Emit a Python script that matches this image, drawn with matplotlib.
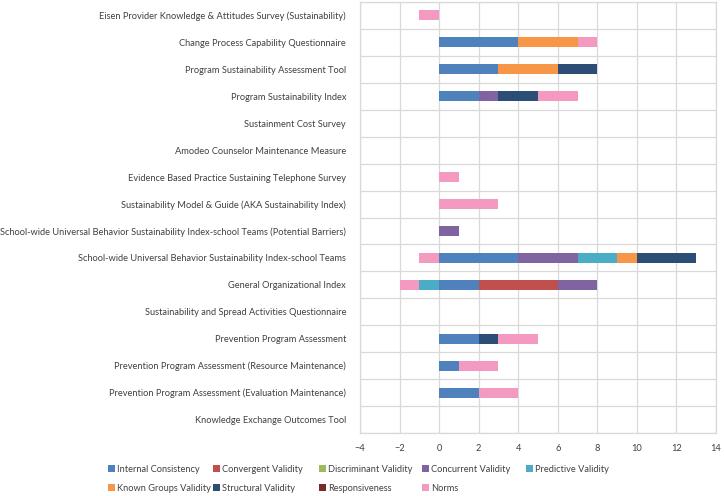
import numpy as np
import matplotlib
matplotlib.use("Agg")
import matplotlib.pyplot as plt

plt.rcParams['font.family'] = ['Lato', 'DejaVu Sans']

# ── Data ──────────────────────────────────────────────────────────────────────
instruments = [
    'Eisen Provider Knowledge & Attitudes Survey (Sustainability)',
    'Change Process Capability Questionnaire',
    'Program Sustainability Assessment Tool',
    'Program Sustainability Index',
    'Sustainment Cost Survey',
    'Amodeo Counselor Maintenance Measure',
    'Evidence Based Practice Sustaining Telephone Survey',
    'Sustainability Model & Guide (AKA Sustainability Index)',
    'School-wide Universal Behavior Sustainability Index-school Teams (Potential Barriers)',
    'School-wide Universal Behavior Sustainability Index-school Teams',
    'General Organizational Index',
    'Sustainability and Spread Activities Questionnaire',
    'Prevention Program Assessment',
    'Prevention Program Assessment (Resource Maintenance)',
    'Prevention Program Assessment (Evaluation Maintenance)',
    'Knowledge Exchange Outcomes Tool',
]

internal_consistency = [0, 4, 3, 2, 0, 0, 0, 0, 0, 4, 2, 0, 2, 1, 2, 0]
convergent_validity  = [0, 0, 0, 0, 0, 0, 0, 0, 0, 0, 4, 0, 0, 0, 0, 0]
discriminant_validity = [0, 0, 0, 0, 0, 0, 0, 0, 0, 0, 0, 0, 0, 0, 0, 0]
concurrent_validity  = [0, 0, 0, 1, 0, 0, 0, 0, 1, 3, 2, 0, 0, 0, 0, 0]
predictive_validity  = [0, 0, 0, 0, 0, 0, 0, 0, 0, 2, -1, 0, 0, 0, 0, 0]
known_groups_validity = [0, 3, 3, 0, 0, 0, 0, 0, 0, 1, 0, 0, 0, 0, 0, 0]
structural_validity  = [0, 0, 2, 2, 0, 0, 0, 0, 0, 3, 0, 0, 1, 0, 0, 0]
responsiveness       = [0, 0, 0, 0, 0, 0, 0, 0, 0, 0, 0, 0, 0, 0, 0, 0]
norms                = [-1, 1, 0, 2, 0, 0, 1, 3, 0, -1, -1, 0, 2, 2, 2, 0]

series = [
    ('Internal Consistency',  internal_consistency,  '#4F81BD'),
    ('Convergent Validity',   convergent_validity,   '#C0504D'),
    ('Discriminant Validity', discriminant_validity, '#9BBB59'),
    ('Concurrent Validity',   concurrent_validity,   '#8064A2'),
    ('Predictive Validity',   predictive_validity,   '#4BACC6'),
    ('Known Groups Validity', known_groups_validity, '#F79646'),
    ('Structural Validity',   structural_validity,   '#2C4D75'),
    ('Responsiveness',        responsiveness,        '#772C2A'),
    ('Norms',                 norms,                 '#F49AC1'),
]

FS = 6.7
TXT = '#404040'
GRID = '#D9D9D9'

# ── Plot ──────────────────────────────────────────────────────────────────────
fig = plt.figure(figsize=(7.24, 4.96), dpi=100)
ax = fig.add_axes([360 / 724, 1 - 433 / 496, 356 / 724, 431 / 496])

y = np.arange(len(instruments))
pos_cum = np.zeros(len(instruments))
neg_cum = np.zeros(len(instruments))
handles = []
for name, vals, color in series:
    v = np.array(vals, dtype=float)
    pos = np.where(v > 0, v, 0)
    neg = np.where(v < 0, v, 0)
    h = ax.barh(y, pos, left=pos_cum, height=0.37, color=color, zorder=3)
    ax.barh(y, neg, left=neg_cum, height=0.37, color=color, zorder=3)
    pos_cum += pos
    neg_cum += neg
    handles.append((h, name))

ax.set_xlim(-4, 14)
ax.set_xticks(np.arange(-4, 15, 2))
ax.set_ylim(len(instruments) - 0.5, -0.5)
ax.set_yticks(y)
ax.set_yticklabels(instruments)
ax.set_yticks(np.arange(-0.5, len(instruments)), minor=True)

ax.tick_params(axis='both', which='both', length=0, labelsize=FS,
               labelcolor=TXT)
ax.tick_params(axis='y', pad=10)
ax.tick_params(axis='x', pad=8)
ax.grid(True, axis='x', which='major', color=GRID, lw=0.9, zorder=0)
ax.grid(True, axis='y', which='minor', color=GRID, lw=0.9, zorder=0)
for sp in ax.spines.values():
    sp.set_color(GRID)
    sp.set_linewidth(0.9)

# Excel-style legend: 5 fixed-width columns, filled row by row
col_x = [108, 213, 319, 422, 526]
ncol = len(col_x)
for c, x0 in enumerate(col_x):
    items = handles[c::ncol]
    fig.legend([h for h, _ in items], [n for _, n in items],
               loc='upper left', bbox_to_anchor=(x0 / 724, 1 - 465 / 496),
               frameon=False, fontsize=FS, labelcolor=TXT,
               handlelength=0.7, handleheight=0.7, handletextpad=0.3,
               labelspacing=1.05, borderaxespad=0, borderpad=0)

plt.savefig("out.png", dpi=100)
